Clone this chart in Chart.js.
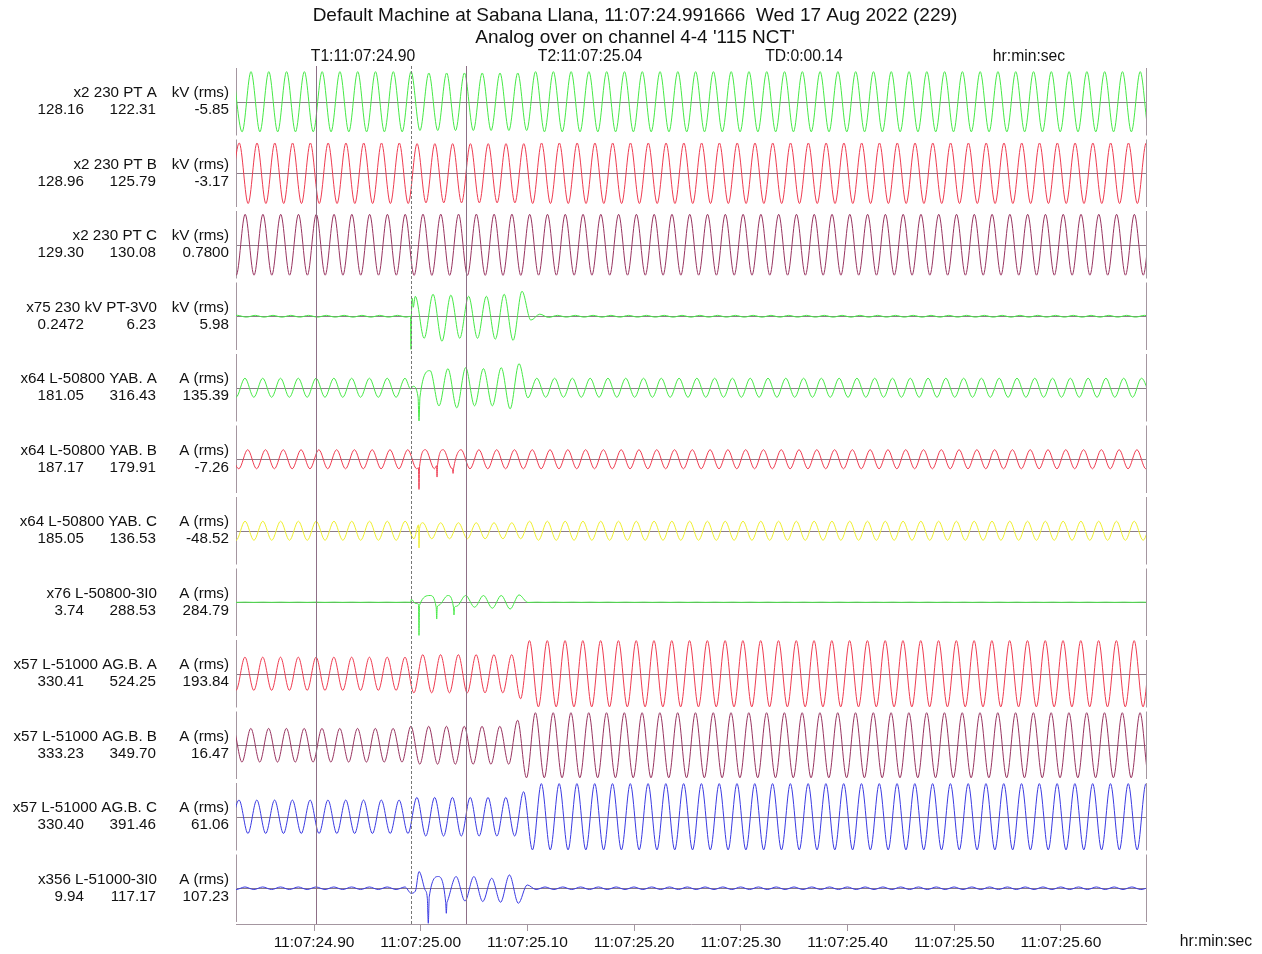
<!DOCTYPE html>
<html>
<head>
<meta charset="utf-8">
<title>Sabana Llana - analog over</title>
<script src="https://cdn.jsdelivr.net/npm/chart.js@4.4.1/dist/chart.umd.min.js"></script>
<style>
  html, body { margin: 0; padding: 0; background: #fff; }
  #wrap { position: relative; width: 1262px; height: 954px; }
</style>
</head>
<body>
<div id="wrap"><canvas id="osc"></canvas></div>
<script>
// ---- record data -------------------------------------------------------
// times are seconds after 11:07:00
const HALF_CYCLE = 1 / 120;          // 60 Hz: one extremum every half cycle
const X_MIN = 24.8269;
const X_MAX = 25.6797;
const timeTicks = [24.9, 25.0, 25.1, 25.2, 25.3, 25.4, 25.5, 25.6];

const cursorT1 = 24.902;
const cursorT2 = 25.0425;
const triggerTime = 24.9906;

const titleLines = [
  'Default Machine at Sabana Llana, 11:07:24.991666  Wed 17 Aug 2022 (229)',
  "Analog over on channel 4-4 '115 NCT'"
];
const headerLabels = ['T1:11:07:24.90', 'T2:11:07:25.04', 'TD:0:00.14', 'hr:min:sec'];

const channelNames = [
  'x2 230 PT A', 'x2 230 PT B', 'x2 230 PT C', 'x75 230 kV PT-3V0',
  'x64 L-50800 YAB. A', 'x64 L-50800 YAB. B', 'x64 L-50800 YAB. C', 'x76 L-50800-3I0',
  'x57 L-51000 AG.B. A', 'x57 L-51000 AG.B. B', 'x57 L-51000 AG.B. C', 'x356 L-51000-3I0'
];
const channelUnits = [
  'kV (rms)', 'kV (rms)', 'kV (rms)', 'kV (rms)',
  'A (rms)', 'A (rms)', 'A (rms)', 'A (rms)',
  'A (rms)', 'A (rms)', 'A (rms)', 'A (rms)'
];
const valuesT1 = ['128.16', '128.96', '129.30', '0.2472', '181.05', '187.17', '185.05', '3.74', '330.41', '333.23', '330.40', '9.94'];
const valuesT2 = ['122.31', '125.79', '130.08', '6.23', '316.43', '179.91', '136.53', '288.53', '524.25', '349.70', '391.46', '117.17'];
const valuesTD = ['-5.85', '-3.17', '0.7800', '5.98', '135.39', '-7.26', '-48.52', '284.79', '193.84', '16.47', '61.06', '107.23'];

// waveform segments: [time of first extremum, its sign, magnitudes of successive half-cycle extrema]
// spikes: [time, instantaneous value]
const ch1Wave = [[24.8243, 1, [
  181,181,181,181,181,181,181,181,181,181, 181,181,181,181,181,181,181,181,181,181, 181,
  173,173,173,173,173,173,173,173,173,173, 173,173,173,
  181,181,181,181,181,181,181,181,181,181, 181,181,181,181,181,181,181,181,181,181,
  181,181,181,181,181,181,181,181,181,181, 181,181,181,181,181,181,181,181,181,181,
  181,181,181,181,181,181,181,181,181,181, 181,181,181,181,181,181,181,181,181,181,
  181,181,181,181,181,181,181,181,181,181, 181,181,181,181,181
]]];
const ch1Spikes = [];

const ch2Wave = [[24.8216, -1, [
  182,182,182,182,182,182,182,182,182,182, 182,182,182,182,182,182,182,182,182,182, 182,
  178,178,178,178,178,178,178,178,178,178, 178,178,178,
  182,182,182,182,182,182,182,182,182,182, 182,182,182,182,182,182,182,182,182,182,
  182,182,182,182,182,182,182,182,182,182, 182,182,182,182,182,182,182,182,182,182,
  182,182,182,182,182,182,182,182,182,182, 182,182,182,182,182,182,182,182,182,182,
  182,182,182,182,182,182,182,182,182,182, 182,182,182,182,182
]]];
const ch2Spikes = [];

const ch3Wave = [[24.8188, 1, [
  183,183,183,183,183,183,183,183,183,183, 183,183,183,183,183,183,183,183,183,183, 183,
  184,184,184,184,184,184,184,184,184,184, 184,184,184,
  183,183,183,183,183,183,183,183,183,183, 183,183,183,183,183,183,183,183,183,183,
  183,183,183,183,183,183,183,183,183,183, 183,183,183,183,183,183,183,183,183,183,
  183,183,183,183,183,183,183,183,183,183, 183,183,183,183,183,183,183,183,183,183,
  183,183,183,183,183,183,183,183,183,183, 183,183,183,183,183
]]];
const ch3Spikes = [];

const ch4Wave = [[24.8199, -1, [
  0.3,0.3,0.3,0.3,0.3,0.3,0.3,0.3,0.3,0.3, 0.3,0.3,0.3,0.3,0.3,0.3,0.3,0.3,0.3,0.3, 0.3,
  6.7,7.4,7.4,8.4,7.1,7.4,6.7,7.4,6.7,7.7, 7.4,8.1,8.4,1.3,0.7,0.4,
  0.3,0.3,0.3,0.3,0.3,0.3,0.3,0.3,0.3,0.3, 0.3,0.3,0.3,0.3,0.3,0.3,0.3,0.3,0.3,0.3,
  0.3,0.3,0.3,0.3,0.3,0.3,0.3,0.3,0.3,0.3, 0.3,0.3,0.3,0.3,0.3,0.3,0.3,0.3,0.3,0.3,
  0.3,0.3,0.3,0.3,0.3,0.3,0.3,0.3,0.3,0.3, 0.3,0.3,0.3,0.3,0.3,0.3,0.3,0.3,0.3,0.3,
  0.3,0.3,0.3,0.3,0.3,0.3,0.3,0.3,0.3,0.3
]]];
const ch4Spikes = [[24.9904, 0], [24.9909, -11.1], [24.9914, 2], [24.9922, 6.0], [24.9930, 3.0]];

const ch5Wave = [
  [24.8186, 1, [256,256,256,256,256,256,256,256,256,256, 256,256,256,256,256,256,256,256,256,256, 256]],
  [25.0088, 1, [
    460,486,513,540,540,486,513,486,540,567, 648,270,
    256,256,256,256,256,256,256,256,256,256, 256,256,256,256,256,256,256,256,256,256,
    256,256,256,256,256,256,256,256,256,256, 256,256,256,256,256,256,256,256,256,256,
    256,256,256,256,256,256,256,256,256,256, 256,256,256,256,256,256,256,256,256,256,
    256,256,256,256,256,256,256,256,256,256
  ]]
];
const ch5Spikes = [[24.9905, -30], [24.9928, 40], [24.9975, -250], [24.9984, -890], [24.9993, -250]];

const ch6Wave = [[24.8212, 1, [
  256,256,256,256,256,256,256,256,256,256, 256,256,256,256,256,256,256,256,256,256,
  256,256,256,256,256,256,256,256,256,256, 256,256,256,256,256,256,256,256,256,256,
  256,256,256,256,256,256,256,256,256,256, 256,256,256,256,256,256,256,256,256,256,
  256,256,256,256,256,256,256,256,256,256, 256,256,256,256,256,256,256,256,256,256,
  256,256,256,256,256,256,256,256,256,256, 256,256,256,256,256,256,256,256,256,256,
  256,256,256,256,256
]]];
const ch6Spikes = [
  [24.9979, -230], [24.9984, -810], [24.9989, -200],
  [25.0148, -175], [25.0153, -478], [25.0158, -150],
  [25.0298, -250], [25.0303, -380], [25.0308, -250]
];

const ch7Wave = [[24.8187, 1, [
  256,256,256,256,256,256,256,256,256,256, 256,256,256,256,256,256,256,256,256,256, 256,
  215,215,215,215,215,215,215,215,215,215, 215,215,215,
  256,256,256,256,256,256,256,256,256,256, 256,256,256,256,256,256,256,256,256,256,
  256,256,256,256,256,256,256,256,256,256, 256,256,256,256,256,256,256,256,256,256,
  256,256,256,256,256,256,256,256,256,256, 256,256,256,256,256,256,256,256,256,256,
  256,256,256,256,256,256,256,256,256,256, 256,256,256,256,256
]]];
const ch7Spikes = [[24.9980, 160], [24.9984, -460], [24.9989, 60]];

const ch8Wave = [
  [24.8186, 1, [5,5,5,5,5,5,5,5,5,5, 5,5,5,5,5,5,5,5,5,5, 5]],
  [25.0088, 1, [
    340,150,340,200,340,250,340,300,340,340, 370,10,
    5,5,5,5,5,5,5,5,5,5, 5,5,5,5,5,5,5,5,5,5, 5,5,5,5,5,5,5,5,5,5, 5,5,5,5,5,5,5,5,5,5,
    5,5,5,5,5,5,5,5,5,5, 5,5,5,5,5,5,5,5,5,5, 5,5,5,5,5,5,5,5,5,5
  ]]
];
const ch8Spikes = [
  [24.9906, 0], [24.9912, 150], [24.9950, -60],
  [24.9979, -100], [24.9984, -1670], [24.9989, -150],
  [25.0145, -250], [25.0150, -845], [25.0155, -250],
  [25.0307, -250], [25.0312, -640], [25.0317, -250]
];

const ch9Wave = [[24.8186, 1, [
  464,464,464,464,464,464,464,464,464,464, 464,464,464,464,464,464,464,464,464,464, 464,
  534,534,534,534,534,534,534,534,534,534, 534,534, 700,
  927,927,927,927,927,927,927,927,927,927, 927,927,927,927,927,927,927,927,927,927,
  927,927,927,927,927,927,927,927,927,927, 927,927,927,927,927,927,927,927,927,927,
  927,927,927,927,927,927,927,927,927,927, 927,927,927,927,927,927,927,927,927,927,
  927,927,927,927,927,927,927,927,927,927, 927,927,927,927,927
]]];
const ch9Spikes = [];

const ch10Wave = [[24.8158, -1, [
  471,471,471,471,471,471,471,471,471,471, 471,471,471,471,471,471,471,471,471,471, 471,
  530,530,530,530,530,530,530,530,530,530, 530,530, 700,
  910,910,910,910,910,910,910,910,910,910, 910,910,910,910,910,910,910,910,910,910,
  910,910,910,910,910,910,910,910,910,910, 910,910,910,910,910,910,910,910,910,910,
  910,910,910,910,910,910,910,910,910,910, 910,910,910,910,910,910,910,910,910,910,
  910,910,910,910,910,910,910,910,910,910, 910,910,910,910,910
]]];
const ch10Spikes = [];

const ch11Wave = [[24.8214, -1, [
  467,467,467,467,467,467,467,467,467,467, 467,467,467,467,467,467,467,467,467,467, 467,
  540,540,540,540,540,540,540,540,540,540, 540,540, 700,
  927,927,927,927,927,927,927,927,927,927, 927,927,927,927,927,927,927,927,927,927,
  927,927,927,927,927,927,927,927,927,927, 927,927,927,927,927,927,927,927,927,927,
  927,927,927,927,927,927,927,927,927,927, 927,927,927,927,927,927,927,927,927,927,
  927,927,927,927,927,927,927,927,927,927, 927,927,927,927,927
]]];
const ch11Spikes = [];

const ch12Wave = [
  [24.8186, 1, [18,18,18,18,18,18,18,18,18,18, 18,18,18,18,18,18,18,18,18,18, 18]],
  [25.0165, 1, [
    164,190,164,178,164,186,140,196,186,210, 46,
    18,18,18,18,18,18,18,18,18,18, 18,18,18,18,18,18,18,18,18,18, 18,18,18,18,18,18,18,18,18,18,
    18,18,18,18,18,18,18,18,18,18, 18,18,18,18,18,18,18,18,18,18, 18,18,18,18,18,18,18,18,18,18,
    18,18,18,18,18,18,18,18,18,18
  ]]
];
const ch12Spikes = [
  [24.9909, -70], [24.9950, -40], [24.9984, 234], [25.0040, -20],
  [25.0062, -140], [25.0071, -490], [25.0080, -120],
  [25.0234, -200], [25.0240, -350], [25.0246, -200]
];

const waves = [ch1Wave, ch2Wave, ch3Wave, ch4Wave, ch5Wave, ch6Wave, ch7Wave, ch8Wave, ch9Wave, ch10Wave, ch11Wave, ch12Wave];
const spikes = [ch1Spikes, ch2Spikes, ch3Spikes, ch4Spikes, ch5Spikes, ch6Spikes, ch7Spikes, ch8Spikes, ch9Spikes, ch10Spikes, ch11Spikes, ch12Spikes];

// ---- styling -------------------------------------------------------------
const GREEN = '#46e846';
const RED = '#ee3b50';
const MAROON = '#983460';
const YELLOW = '#eeee30';
const BLUE = '#3a3ae2';
const lineColors = [GREEN, RED, MAROON, GREEN, GREEN, RED, YELLOW, GREEN, RED, MAROON, BLUE, BLUE];
const axisMax = [215, 215, 215, 12, 960, 960, 960, 1800, 1000, 1000, 1000, 500];

const ZERO_LINE = '#8c7c88';
const FRAME = '#a496a0';
const CURSOR = '#8d6f86';
const FONT = '"Liberation Sans", Arial, sans-serif';

function buildPoints(segments, extra) {
  const pts = [];
  segments.forEach(([t0, sign, mags]) => {
    mags.forEach((m, k) => pts.push({ x: t0 + k * HALF_CYCLE, y: (k % 2 ? -sign : sign) * m }));
  });
  extra.forEach(([x, y]) => pts.push({ x, y }));
  return pts.sort((a, b) => a.x - b.x);
}

const datasets = waves.map((w, i) => ({
  data: buildPoints(w, spikes[i]),
  yAxisID: 'y' + i,
  borderColor: lineColors[i],
  borderWidth: 1,
  pointRadius: 0,
  fill: false,
  cubicInterpolationMode: 'monotone'
}));

const scales = {
  x: {
    type: 'linear',
    position: 'bottom',
    min: X_MIN,
    max: X_MAX,
    afterBuildTicks(s) { s.ticks = timeTicks.map(v => ({ value: v })); },
    afterFit(s) { s.height = 30; },
    grid: { display: true, drawOnChartArea: false, drawTicks: true, tickLength: 7, color: FRAME },
    border: { display: true, color: FRAME },
    ticks: {
      autoSkip: false,
      maxRotation: 0,
      padding: 2,
      color: '#111',
      font: { size: 15.5, family: FONT },
      callback: v => '11:07:' + Number(v).toFixed(2)
    }
  }
};
channelNames.forEach((_, i) => {
  scales['y' + i] = {
    type: 'linear',
    position: 'left',
    stack: 'bands',
    stackWeight: 1,
    weight: channelNames.length - i,
    min: -axisMax[i],
    max: axisMax[i],
    grid: { display: false },
    border: { display: false },
    ticks: { display: false },
    afterFit(s) { s.width = 0; }
  };
});

// band frames, zero lines, cursors and all the labels
const oscOverlay = {
  id: 'oscOverlay',
  beforeDatasetsDraw(chart) {
    const { ctx, chartArea } = chart;
    ctx.save();
    ctx.lineWidth = 1;
    channelNames.forEach((_, i) => {
      const s = chart.scales['y' + i];
      const zero = Math.round(s.getPixelForValue(0)) + 0.5;
      ctx.strokeStyle = ZERO_LINE;
      ctx.beginPath();
      ctx.moveTo(chartArea.left, zero);
      ctx.lineTo(chartArea.right, zero);
      ctx.stroke();
      ctx.strokeStyle = FRAME;
      [chartArea.left, chartArea.right].forEach(x => {
        const px = Math.round(x) + 0.5;
        ctx.beginPath();
        ctx.moveTo(px, s.top + 2);
        ctx.lineTo(px, s.bottom - 2);
        ctx.stroke();
      });
    });
    ctx.restore();
  },
  afterDatasetsDraw(chart) {
    const { ctx, chartArea } = chart;
    const xs = chart.scales.x;
    ctx.save();
    ctx.lineWidth = 1;
    ctx.strokeStyle = CURSOR;
    [cursorT1, cursorT2].forEach(t => {
      const px = Math.round(xs.getPixelForValue(t)) + 0.5;
      ctx.beginPath();
      ctx.moveTo(px, chartArea.top);
      ctx.lineTo(px, chartArea.bottom);
      ctx.stroke();
    });
    ctx.strokeStyle = '#777';
    ctx.setLineDash([3, 2]);
    const tx = Math.round(xs.getPixelForValue(triggerTime)) + 0.5;
    ctx.beginPath();
    ctx.moveTo(tx, chartArea.top);
    ctx.lineTo(tx, chartArea.bottom);
    ctx.stroke();
    ctx.restore();
  },
  afterDraw(chart) {
    const { ctx } = chart;
    ctx.save();
    ctx.fillStyle = '#111';
    ctx.textBaseline = 'middle';
    ctx.textAlign = 'center';
    ctx.font = '19px ' + FONT;
    ctx.fillText(titleLines[0], 635, 16);
    ctx.fillText(titleLines[1], 635, 38);
    ctx.font = '15.7px ' + FONT;
    const headerX = [363, 590, 804, 1029];
    headerLabels.forEach((t, i) => ctx.fillText(t, headerX[i], 57));
    ctx.fillText('hr:min:sec', 1216, 942);

    ctx.font = '15.2px ' + FONT;
    ctx.textAlign = 'right';
    channelNames.forEach((name, i) => {
      const c = chart.scales['y' + i].getPixelForValue(0);
      ctx.fillText(name, 157, c - 8.5);
      ctx.fillText(channelUnits[i], 229, c - 8.5);
      ctx.fillText(valuesT1[i], 84, c + 8.5);
      ctx.fillText(valuesT2[i], 156, c + 8.5);
      ctx.fillText(valuesTD[i], 229, c + 8.5);
    });
    ctx.restore();
  }
};

new Chart(document.getElementById('osc'), {
  type: 'line',
  data: { datasets },
  options: {
    responsive: true,
    maintainAspectRatio: false,
    animation: false,
    events: [],
    layout: { padding: { left: 236, right: 116, top: 66, bottom: 0 } },
    plugins: {
      legend: { display: false },
      tooltip: { enabled: false },
      title: { display: false }
    },
    scales
  },
  plugins: [oscOverlay]
});
</script>
</body>
</html>
